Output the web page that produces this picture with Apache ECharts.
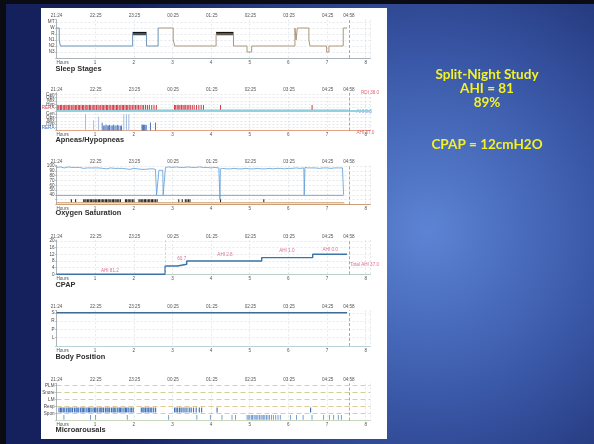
<!DOCTYPE html>
<html>
<head>
<meta charset="utf-8">
<script src="https://cdn.jsdelivr.net/npm/echarts@6.0.0/dist/echarts.min.js"></script>
<style>
html,body{margin:0;padding:0;overflow:hidden;background:#15235f;}
#chart{width:594px;height:444px;}
</style>
</head>
<body>
<div id="chart"></div>
<script>
// ================= DATA =================
const hourLabels = ['Hours','1','2','3','4','5','6','7','8'];
const timeTicks  = [0, 1.017, 2.017, 3.017, 4.017, 5.017, 6.017, 7.017, 7.567];
const timeLabels = ['21:24','22:25','23:25','00:25','01:25','02:25','03:25','04:25','04:58'];
const recordEnd  = 7.567;
const cpapStart  = 2.81;

// Sleep stages (value -> label)
const stageRows = ['', 'N3', 'N2', 'N1', 'R', 'W', 'MT'];
const hypnogram = [[0,5],[0.07,3],[0.1,2],[1.97,4],[2.33,2],[2.63,5],[3.02,3],[3.06,2],[4.13,4],[4.58,2],[4.93,1],[5.05,2],[6.17,5],[6.2,3],[6.23,5],[6.53,3],[6.56,2],[6.99,1],[7.05,2],[7.42,5],[7.52,5]];
const remPeriods = [[1.97,2.33],[4.13,4.58]];

// Apneas / hypopneas
const apneaRows = ['', 'RERA','Hyp','Mix','Obs','Cen','', 'RERA','Hyp','Mix','Obs','Cen'];
const upperEvents = [0.02,0.05,0.09,0.12,0.16,0.19,0.23,0.26,0.3,0.33,0.37,0.41,0.44,0.48,0.51,0.55,0.58,0.62,0.66,0.69,0.73,0.77,0.8,0.84,0.87,0.91,0.95,0.98,1.02,1.06,1.09,1.13,1.17,1.2,1.24,1.28,1.31,1.35,1.39,1.43,1.46,1.5,1.54,1.57,1.61,1.65,1.69,1.72,1.76,1.8,1.83,1.87,1.91,1.95,1.99,2.03,2.07,2.11,2.15,2.2,2.24,2.29,2.34,2.39,2.45,2.51,2.57,3.04,3.07,3.11,3.15,3.18,3.22,3.26,3.29,3.33,3.37,3.41,3.45,3.5,3.55,3.61,3.67,3.73,3.79,4.23,6.6];
const lowerEvents = [[0.74,5.0],[0.95,3.2],[1.08,4.2],[1.17,2.4],[1.21,1.6],[1.24,1.6],[1.27,1.8],[1.3,1.6],[1.33,1.6],[1.36,1.7],[1.4,1.6],[1.43,1.6],[1.46,1.8],[1.5,1.6],[1.53,1.6],[1.57,1.7],[1.6,1.6],[1.64,1.5],[1.67,1.6],[1.73,5.0],[1.8,5.0],[1.86,5.0],[2.2,1.8],[2.22,1.8],[2.24,1.8],[2.26,1.8],[2.28,1.7],[2.31,1.7],[2.42,2.5],[2.55,2.5]];
const apneaIndexLabels = [[7.88, 11.4, 'RDI 38.0'], [7.76, 5.7, 'AHI 8.3'], [7.76, -0.6, 'AHI 37.0']];

// Oxygen saturation
const spo2 = [[0,97],[0.05,96],[0.1,98],[0.15,97],[0.2,96],[0.25,97],[0.3,98],[0.35,96],[0.4,97],[0.45,96],[0.5,97],[0.55,95],[0.6,97],[0.65,96],[0.7,95],[0.75,97],[0.8,96],[0.85,95],[0.9,96],[0.95,94],[1.0,96],[1.05,95],[1.1,96],[1.15,94],[1.2,95],[1.25,96],[1.3,94],[1.35,95],[1.4,96],[1.45,94],[1.5,95],[1.55,93],[1.6,95],[1.65,94],[1.7,95],[1.75,93],[1.8,94],[1.85,95],[1.9,93],[1.95,94],[2.0,95],[2.05,93],[2.1,94],[2.15,95],[2.2,93],[2.25,94],[2.3,93],[2.35,95],[2.4,94],[2.45,93],[2.5,94],[2.56,93],[2.58,92],[2.59,40],[2.64,40],[2.65,91],[2.7,92],[2.75,91],[2.76,40],[2.81,40],[2.82,97],[2.9,98],[3.0,97],[3.1,98],[3.2,97],[3.3,97],[3.4,98],[3.5,97],[3.6,97],[3.7,98],[3.8,97],[3.9,97],[4.0,96],[4.1,97],[4.2,96],[4.22,96],[4.23,30],[4.24,94],[4.3,95],[4.4,94],[4.5,94],[4.6,95],[4.7,94],[4.8,94],[4.9,95],[5.0,94],[5.1,94],[5.2,95],[5.3,94],[5.4,94],[5.5,95],[5.6,94],[5.7,95],[5.8,95],[5.9,94],[6.0,95],[6.1,95],[6.2,96],[6.3,95],[6.35,96],[6.4,96],[6.41,40],[6.43,97],[6.5,96],[6.6,96],[6.7,96],[6.8,95],[6.9,96],[7.0,96],[7.1,95],[7.2,96],[7.3,96],[7.4,96],[7.42,96],[7.43,40]];
const spo2Floor = [[0,39],[7.43,39]];
const desatEvents = [0.37,0.48,0.69,0.72,0.75,0.79,0.82,0.86,0.89,0.93,0.96,1.0,1.03,1.07,1.1,1.14,1.18,1.21,1.25,1.28,1.32,1.35,1.39,1.43,1.46,1.5,1.53,1.57,1.6,1.64,1.77,1.8,1.84,1.87,1.91,1.95,1.99,2.12,2.15,2.19,2.22,2.26,2.29,2.33,2.37,2.4,2.44,2.47,2.51,2.55,2.59,3.15,3.24,3.32,3.36,3.4,3.44,4.23,5.35];
const spo2Rows = {40:'40',50:'50',60:'60',70:'70',80:'80',90:'90',100:'100'};

// CPAP
const cpapSteps = [[0,0],[2.81,5],[3.13,6],[3.37,8],[5.31,10],[6.63,12],[7.52,12]];
const cpapLabels = [[1.38, 2.2, 'AHI 81.2'], [3.24, 9.6, '60.7'], [4.36, 11.6, 'AHI 2.8'], [5.96, 14, 'AHI 1.0'], [7.08, 15, 'AHI 0.0']];
const cpapTotal = [[7.6, 5.6, 'Total AHI 37.0']];

// Body position
const positionRows = ['', 'L', 'P', 'R', 'S'];
const bodyPosition = [[0,4],[7.52,4]];

// Microarousals
const arousalRows = ['', 'Spon', 'Resp', 'LM', 'Snore', 'PLM'];
const respArousals = [0.05,0.09,0.12,0.16,0.2,0.25,0.29,0.33,0.36,0.4,0.45,0.49,0.52,0.56,0.61,0.65,0.68,0.72,0.77,0.81,0.84,0.88,0.93,0.97,1.0,1.04,1.09,1.13,1.16,1.2,1.25,1.29,1.32,1.36,1.41,1.45,1.48,1.52,1.57,1.61,1.64,1.68,1.73,1.77,1.8,1.84,1.89,1.93,1.97,2.18,2.22,2.25,2.29,2.33,2.37,2.41,2.45,2.5,2.55,3.04,3.08,3.12,3.17,3.21,3.26,3.31,3.36,3.42,3.47,3.53,3.6,3.68,3.74,4.14,6.56];
const sponArousals = [0.18,0.87,1.0,1.82,2.89,3.62,3.97,4.27,4.53,4.62,4.92,4.95,4.99,5.03,5.06,5.1,5.13,5.17,5.2,5.24,5.28,5.31,5.35,5.38,5.42,5.46,5.5,5.55,5.6,5.66,5.72,5.78,6.04,6.2,6.37,6.6,6.9,7.05,7.16,7.28,7.36];

const panelTitles = ['Sleep Stages','Apneas/Hypopneas','Oxygen Saturation','CPAP','Body Position','Microarousals'];
const slideLines = ['Split-Night Study','AHI = 81','89%','CPAP = 12cmH2O'];

// ================= LAYOUT / STYLE =================
const X_MAX = 8.12;
const PLOT_LEFT = 56.5, PLOT_W = 313.8;
const FS = 4.6;
const panels = [
  {top:19.6,  bottom:58,    min:0,  max:6.4,  interval:1},
  {top:92.75, bottom:130.7, min:0,  max:11.5, interval:1},
  {top:165.5, bottom:204.5, min:20, max:101,  interval:10},
  {top:240.1, bottom:274.3, min:0,  max:20.5, interval:4},
  {top:310.3, bottom:346,   min:0,  max:4.3,  interval:1},
  {top:383.4, bottom:420.5, min:0,  max:5.3,  interval:1}
];
const axisColors = ['#a9b3ba', '#e3a487', '#c9a078', '#b8d0c8', '#b9d4d8', '#c8d8c0'];

function nearestTime(v){
  let best = 0;
  for (let i = 1; i < timeTicks.length; i++) if (Math.abs(timeTicks[i]-v) < Math.abs(timeTicks[best]-v)) best = i;
  return Math.abs(timeTicks[best]-v) < 0.05 ? timeLabels[best] : '';
}

const grids = panels.map(p => ({left:PLOT_LEFT, top:p.top, width:PLOT_W, height:p.bottom-p.top}));
const xAxes = [];
const yAxes = [];
const rowFormatters = [
  v => stageRows[v] || '',
  v => { const s = apneaRows[v]; if (!s) return ''; if (v === 7) return '{r|'+s+'}'; if (v === 1) return '{b|'+s+'}'; return s; },
  v => spo2Rows[v] || '',
  v => (Number.isInteger(v) && v <= 20) ? String(v) : '',
  v => positionRows[v] || '',
  v => arousalRows[v] || ''
];
panels.forEach((p, i) => {
  xAxes.push({
    type:'value', gridIndex:i, min:0, max:X_MAX, interval:1, position:'bottom',
    axisLine:{show:true, onZero:false, lineStyle:{color:axisColors[i], width:1.1}},
    axisTick:{show:false},
    axisLabel:{fontSize:FS, color:'#555', margin:2, alignMinLabel:'left', showMaxLabel:true,
      formatter: v => (Number.isInteger(v) ? hourLabels[v] : '')},
    splitLine:{show:true, lineStyle:{color:'#d3dbe2', type:[2,2], width:0.6}}
  });
  xAxes.push({
    type:'value', gridIndex:i, min:0, max:X_MAX, position:'top',
    axisLine:{show:false}, axisTick:{show:false}, splitLine:{show:false},
    axisLabel:{fontSize:FS, color:'#555', margin:1, customValues:timeTicks, formatter: nearestTime}
  });
  const isArousal = i === 5;
  yAxes.push({
    type:'value', gridIndex:i, min:p.min, max:p.max, interval:p.interval,
    axisLine:{show:true, onZero:false, lineStyle:{color:'#9aa4aa', width:0.8}},
    axisTick:{show:true, length:1.5, lineStyle:{color:'#9aa4aa', width:0.6}},
    axisLabel:{fontSize:FS, color:'#444', margin:2, formatter:rowFormatters[i],
      rich:{r:{color:'#d24552', fontSize:FS}, b:{color:'#3b6fbf', fontSize:FS}}},
    splitLine:{show:true, showMaxLine:false,
      lineStyle: isArousal
        ? {color:['#cfd6dc','#8fd3e3','#d9bc7c','#8fd3e3','#bcc87a','#8fd3e3'], type:[5,3], width:0.8}
        : {color:'#d3dbe2', type:[2,2], width:0.6}}
  });
});

function endLine(){
  return {symbol:['none','none'], silent:true, label:{show:false}, animation:false,
    lineStyle:{color:'#e2707c', type:[3,2], width:0.8}, data:[{xAxis: recordEnd}]};
}

function rectSeries(gi, data, colorFn){
  return {
    type:'custom', xAxisIndex:gi*2, yAxisIndex:gi, data:data, encode:{x:[0,1], y:[2,3]},
    renderItem:(params, api) => {
      const a = api.coord([api.value(0), api.value(2)]);
      const b = api.coord([api.value(1), api.value(3)]);
      return {type:'rect', shape:{x:a[0], y:b[1], width:Math.max(b[0]-a[0], 0.9), height:a[1]-b[1]},
        style:{fill:colorFn(api)}};
    }
  };
}

function labelSeries(gi, data, color, align){
  return {
    type:'scatter', xAxisIndex:gi*2, yAxisIndex:gi, data:data, symbolSize:1, clip:false, silent:true,
    itemStyle:{color:'rgba(0,0,0,0)'},
    label:{show:true, position:'inside', align:align, verticalAlign:'middle', fontSize:FS, color:color,
      formatter: p => p.value[2]}
  };
}

const CPAP_SWITCH = 2.63;
const hypnoDiag = hypnogram.filter(d => d[0] <= CPAP_SWITCH);
const hypnoCpap = hypnogram.filter(d => d[0] >= CPAP_SWITCH);

const series = [];
// P1 sleep stages
series.push({type:'line', xAxisIndex:0, yAxisIndex:0, step:'end', data:hypnoCpap, symbol:'none',
  lineStyle:{width:1, color:'#ad977c'}, markLine:endLine()});
series.push({type:'line', xAxisIndex:0, yAxisIndex:0, step:'end', data:hypnoDiag, symbol:'none',
  lineStyle:{width:1, color:'#6f93b8'}});
series.push(rectSeries(0, remPeriods.map(r => [r[0], r[1], 3.8, 4.35]), () => '#151515'));

// P2 apneas
series.push(rectSeries(1, upperEvents.map(t => [t, t+0.027, 6.15, 7.8]), () => '#d63d4a'));
series.push(rectSeries(1, lowerEvents.map(e => [e[0], e[0]+0.02, 0.05, e[1]]), api => api.value(3) > 3 ? '#9db8da' : '#3f70b8'));
series.push({type:'line', xAxisIndex:2, yAxisIndex:1, data:[[1.97,6.32],[7.55,6.32]], symbol:'none',
  lineStyle:{color:'#e9a56e', width:0.8},
  markLine:{symbol:['none','none'], silent:true, label:{show:false}, animation:false,
    data:[{yAxis:6, lineStyle:{color:'#92d2de', type:'solid', width:2}},
          {xAxis:recordEnd, lineStyle:{color:'#e2707c', type:[3,2], width:0.8}}]}});
series.push(labelSeries(1, apneaIndexLabels.slice(0,1), '#d24552', 'left'));
series.push(labelSeries(1, apneaIndexLabels.slice(1,2), '#3b6fbf', 'left'));
series.push(labelSeries(1, apneaIndexLabels.slice(2,3), '#d24552', 'left'));

// P3 SpO2
series.push({type:'line', xAxisIndex:4, yAxisIndex:2, data:spo2Floor, symbol:'none', lineStyle:{color:'#5e90d0', width:0.8}});
series.push({type:'line', xAxisIndex:4, yAxisIndex:2, data:[[0,23.5],[7.45,23.5]], symbol:'none', lineStyle:{color:'#c8935f', width:1}});
series.push({type:'line', xAxisIndex:4, yAxisIndex:2, data:spo2, symbol:'none', lineStyle:{color:'#5a9ad6', width:0.8}, markLine:endLine()});
series.push(rectSeries(2, desatEvents.map(t => [t, t+0.028, 24.5, 31]), () => '#262626'));

// P4 CPAP
series.push({type:'line', xAxisIndex:6, yAxisIndex:3, step:'end', data:cpapSteps, symbol:'none',
  lineStyle:{color:'#3b74a6', width:1.4},
  markLine:{symbol:['none','none'], silent:true, label:{show:false}, animation:false,
    data:[{xAxis:recordEnd, lineStyle:{color:'#e2707c', type:[3,2], width:0.8}},
          {xAxis:cpapStart, lineStyle:{color:'#b8c0c8', type:[2,2], width:0.7}}]}});
series.push(labelSeries(3, cpapLabels, '#cf4a7e', 'center'));
series.push(labelSeries(3, cpapTotal, '#cf4a7e', 'left'));

// P5 body position
series.push({type:'line', xAxisIndex:8, yAxisIndex:4, step:'end', data:bodyPosition, symbol:'none',
  lineStyle:{color:'#3d6d96', width:1.4}, markLine:endLine()});

// P6 microarousals
series.push(rectSeries(5, respArousals.map(t => [t, t+0.03, 1.15, 1.85]), () => '#3f72bb'));
series.push(rectSeries(5, sponArousals.map(t => [t, t+0.02, 0.1, 0.8]), () => '#6a92cc'));
series.push({type:'line', xAxisIndex:10, yAxisIndex:5, data:[[0,-1],[0.01,-1]], symbol:'none', lineStyle:{opacity:0}, markLine:endLine()});

// titles
const titles = [];
const titleTops = [65.5, 136.2, 209.3, 281.2, 353.5, 426.2];
panelTitles.forEach((t, i) => titles.push({text:t, left:55.5, top:titleTops[i], padding:0,
  textStyle:{fontSize:7.4, fontWeight:'bold', color:'#2e2e2e', fontFamily:'Liberation Sans, Arial, sans-serif'}}));
const slideTops = [67.5, 81.5, 95.5, 138];
slideLines.forEach((t, i) => titles.push({text:t, left:487, top:slideTops[i], textAlign:'center', padding:0,
  textStyle:{fontSize:13.5, fontWeight:'bold', color:'#f4f224', fontFamily:'Lato, Liberation Sans, sans-serif'}}));

const option = {
  animation:false,
  backgroundColor:'transparent',
  textStyle:{fontFamily:'Liberation Sans, Arial, sans-serif'},
  graphic:[
    {type:'rect', z:-20, silent:true, shape:{x:0, y:0, width:594, height:444},
      style:{fill:new echarts.graphic.RadialGradient(0.72, 0.52, 0.85, [
        {offset:0, color:'#5d84d4'}, {offset:0.45, color:'#3a58a8'}, {offset:1, color:'#14215c'}])}},
    {type:'rect', z:-19, silent:true, shape:{x:0, y:0, width:594, height:4}, style:{fill:'#0b0b14'}},
    {type:'rect', z:-19, silent:true, shape:{x:0, y:0, width:6, height:444}, style:{fill:'#0b0b14'}},
    {type:'rect', z:-18, silent:true, shape:{x:41, y:8, width:346, height:431}, style:{fill:'#ffffff'}}
  ],
  title:titles,
  grid:grids,
  xAxis:xAxes,
  yAxis:yAxes,
  series:series
};

const chart = echarts.init(document.getElementById('chart'), null, {renderer:'canvas', width:594, height:444});
chart.setOption(option);
</script>
</body>
</html>
